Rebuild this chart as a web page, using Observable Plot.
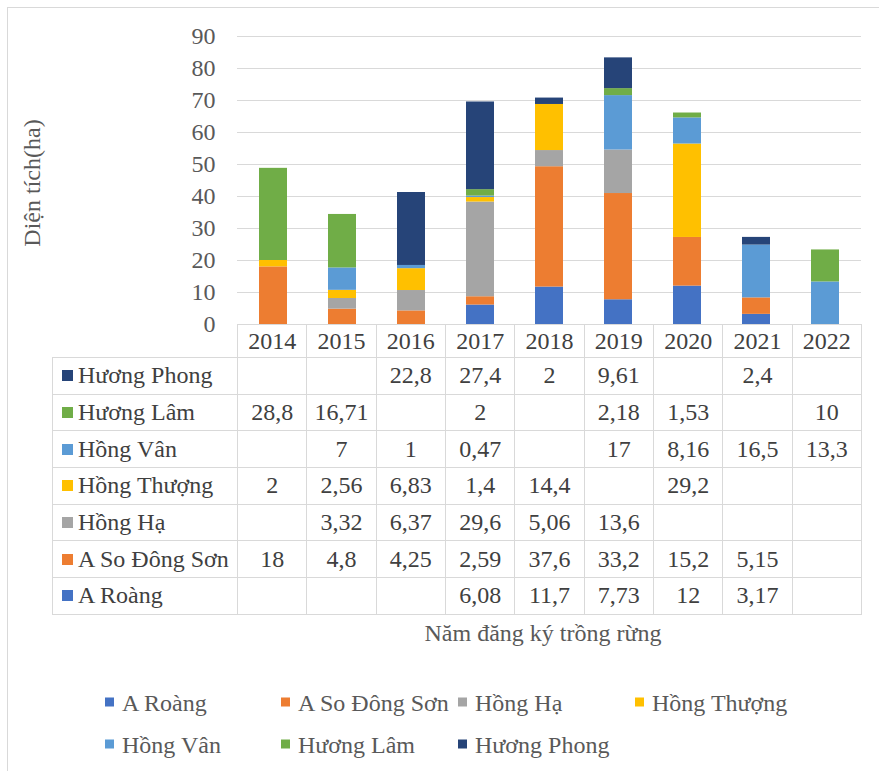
<!DOCTYPE html>
<html><head><meta charset="utf-8">
<script src="https://cdn.jsdelivr.net/npm/d3@7"></script>
<script src="https://cdn.jsdelivr.net/npm/@observablehq/plot@0.6"></script>
<style>
body{margin:0;background:#fff;}
#root{position:relative;width:879px;height:771px;overflow:hidden;font-family:"Liberation Serif","Times New Roman",serif;background:#fff;}
#frame{position:absolute;left:7px;top:7px;width:900px;height:900px;border:1px solid #d9d9d9;box-sizing:border-box;}
#plot{position:absolute;left:0;top:0;}
#ytitle{position:absolute;left:32px;top:183px;transform:translate(-50%,-50%) rotate(-90deg);font-size:24px;color:#595959;white-space:nowrap;}
#xtitle{position:absolute;left:543px;top:633px;transform:translate(-50%,-50%);font-size:24px;color:#595959;white-space:nowrap;}
table{position:absolute;left:52px;top:324px;border-collapse:collapse;table-layout:fixed;width:809px;background:transparent;}
td{border:1px solid #d9d9d9;padding:0;text-align:center;font-size:24px;color:#404040;white-space:nowrap;overflow:visible;}
td.lab{text-align:left;padding-left:9px;}
td.empty{border:none;}
.key{display:inline-block;width:11px;height:11px;margin-right:5px;vertical-align:middle;position:relative;top:-2px;}
.leg{position:absolute;font-size:24px;color:#595959;white-space:nowrap;transform:translateY(-50%);}
.leg .lk{display:inline-block;width:9px;height:9px;margin-right:8px;vertical-align:middle;position:relative;top:-3px;}
</style></head><body><div id="root"><div id="frame"></div></div>
<script>
const years = ["2014","2015","2016","2017","2018","2019","2020","2021","2022"];
const sites = ["A Roàng","A So Đông Sơn","Hồng Hạ","Hồng Thượng","Hồng Vân","Hương Lâm","Hương Phong"];
const colors = ["#4472C4","#ED7D31","#A5A5A5","#FFC000","#5B9BD5","#70AD47","#264478"];
const aRoang      = [null,null,null,6.08,11.7,7.73,12,3.17,null];
const aSoDongSon  = [18,4.8,4.25,2.59,37.6,33.2,15.2,5.15,null];
const hongHa      = [null,3.32,6.37,29.6,5.06,13.6,null,null,null];
const hongThuong  = [2,2.56,6.83,1.4,14.4,null,29.2,null,null];
const hongVan     = [null,7,1,0.47,null,17,8.16,16.5,13.3];
const huongLam    = [28.8,16.71,null,2,null,2.18,1.53,null,10];
const huongPhong  = [null,null,22.8,27.4,2,9.61,null,2.4,null];
const yTicks = [0,10,20,30,40,50,60,70,80,90];
const xTitle = "Năm đăng ký trồng rừng";
const yTitle = "Diện tích(ha)";

const series = [aRoang,aSoDongSon,hongHa,hongThuong,hongVan,huongLam,huongPhong];
const data = [];
sites.forEach((s,i)=>years.forEach((y,j)=>{ if(series[i][j]!=null) data.push({site:s,year:y,value:series[i][j]}); }));

const root = document.getElementById("root");

const chart = Plot.plot({
  width: 879, height: 344,
  marginLeft: 237, marginRight: 18, marginTop: 36, marginBottom: 20,
  style: {fontFamily: '"Liberation Serif","Times New Roman",serif', fontSize: "24px", color: "#595959", background: "transparent"},
  x: {type: "band", domain: years, paddingInner: 0.6, paddingOuter: 0.3, axis: null},
  y: {domain: [0, 90], ticks: yTicks},
  color: {domain: sites, range: colors},
  marks: [
    Plot.gridY(yTicks, {stroke: "#d9d9d9", strokeOpacity: 1}),
    Plot.axisY(yTicks, {tickSize: 0, tickPadding: 22, label: null, fill: "#595959", fontSize: 24}),
    Plot.barY(data, {x: "year", y: "value", fill: "site", order: sites})
  ]
});
chart.id = "plot";
root.appendChild(chart);

const yt = document.createElement("div"); yt.id = "ytitle"; yt.textContent = yTitle; root.appendChild(yt);
const xt = document.createElement("div"); xt.id = "xtitle"; xt.textContent = xTitle; root.appendChild(xt);

// data table
const table = document.createElement("table");
const cg = document.createElement("colgroup");
[185, ...years.map(()=>69.33)].forEach(w=>{const c=document.createElement("col"); c.style.width=w+"px"; cg.appendChild(c);});
table.appendChild(cg);
const hr = document.createElement("tr"); hr.style.height = "33px";
const e = document.createElement("td"); e.className = "empty"; hr.appendChild(e);
years.forEach(y=>{const td=document.createElement("td"); td.textContent=y; hr.appendChild(td);});
table.appendChild(hr);
const fmt = v => v==null ? "" : String(v).replace(".", ",");
for (let i = sites.length-1; i >= 0; i--) {
  const tr = document.createElement("tr"); tr.style.height = "36.7px";
  const lab = document.createElement("td"); lab.className = "lab";
  const k = document.createElement("span"); k.className = "key"; k.style.background = colors[i];
  lab.appendChild(k); lab.appendChild(document.createTextNode(sites[i]));
  tr.appendChild(lab);
  series[i].forEach(v=>{const td=document.createElement("td"); td.textContent=fmt(v); tr.appendChild(td);});
  table.appendChild(tr);
}
root.appendChild(table);

// legend
const legPos = [[105,703],[281,703],[458,703],[635,703],[105,745],[281,745],[458,745]];
sites.forEach((s,i)=>{
  const d = document.createElement("div"); d.className = "leg";
  d.style.left = legPos[i][0]+"px"; d.style.top = legPos[i][1]+"px";
  const k = document.createElement("span"); k.className = "lk"; k.style.background = colors[i];
  d.appendChild(k); d.appendChild(document.createTextNode(s));
  root.appendChild(d);
});
</script>
</body></html>
